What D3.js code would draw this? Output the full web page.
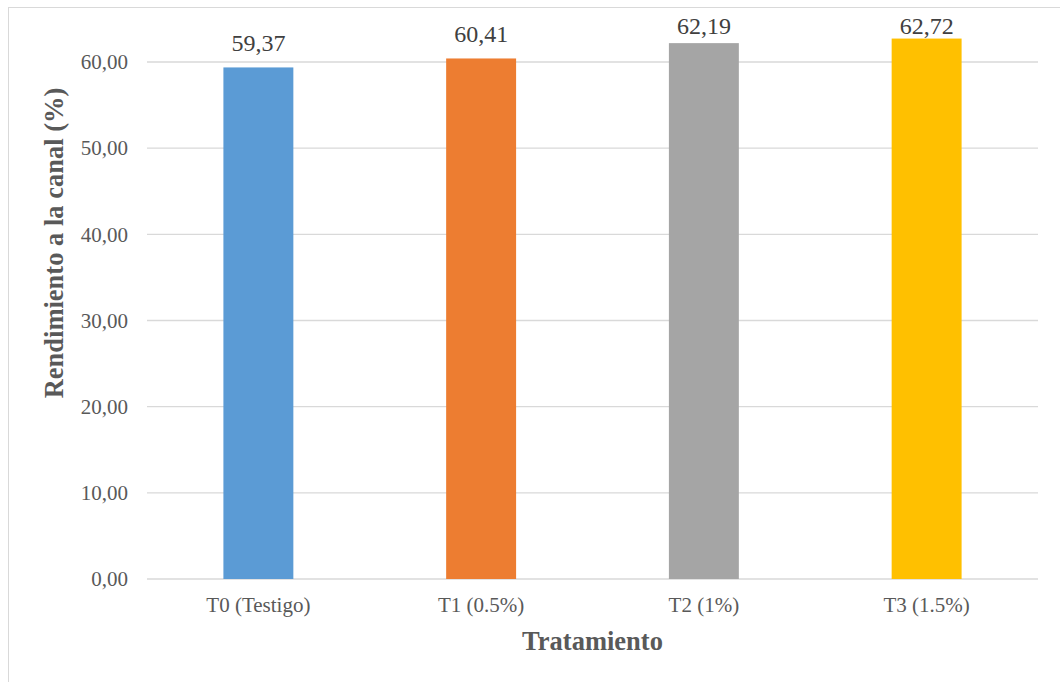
<!DOCTYPE html>
<html>
<head>
<meta charset="utf-8">
<script src="https://cdn.jsdelivr.net/npm/d3@7"></script>
<style>
  html, body { margin: 0; padding: 0; background: #ffffff; }
  svg { display: block; }
</style>
</head>
<body>
<svg id="chart" width="1060" height="682"></svg>
<script>
// Carcass yield by treatment
const categories = ["T0 (Testigo)", "T1 (0.5%)", "T2 (1%)", "T3 (1.5%)"];
const values = [59.37, 60.41, 62.19, 62.72];
const colors = ["#5B9BD5", "#ED7D31", "#A5A5A5", "#FFC000"];
const yTicks = [0, 10, 20, 30, 40, 50, 60];
const yTitle = "Rendimiento a la canal (%)";
const xTitle = "Tratamiento";

const svg = d3.select("#chart");
const font = "'Liberation Serif', 'Times New Roman', serif";
const comma = v => d3.format(".2f")(v).replace(".", ",");

// Chart frame
svg.append("rect")
  .attr("x", 8.5).attr("y", 7.5)
  .attr("width", 1100).attr("height", 700)
  .attr("fill", "none").attr("stroke", "#d9d9d9").attr("stroke-width", 1);

const x = d3.scaleBand()
  .domain(categories)
  .range([147, 1038])
  .paddingInner(0.686)
  .paddingOuter(0.343);

const y = d3.scaleLinear()
  .domain([0, 60])
  .range([579, 62]);

// Horizontal gridlines (the 0 line doubles as the category axis)
svg.append("g")
  .selectAll("line")
  .data(yTicks)
  .join("line")
  .attr("x1", 147).attr("x2", 1038)
  .attr("y1", d => y(d)).attr("y2", d => y(d))
  .attr("stroke", "#d9d9d9").attr("stroke-width", 1.4);

// Value axis labels
const yAxis = svg.append("g")
  .attr("transform", "translate(128,0)")
  .call(d3.axisLeft(y).tickValues(yTicks).tickFormat(comma).tickSize(0).tickPadding(0));
yAxis.select(".domain").remove();
yAxis.selectAll("text")
  .attr("font-family", font).attr("font-size", 21).attr("fill", "#595959");

// Category axis labels
const xAxis = svg.append("g")
  .attr("transform", "translate(0,579)")
  .call(d3.axisBottom(x).tickSize(0).tickPadding(0));
xAxis.select(".domain").remove();
xAxis.selectAll("text")
  .attr("font-family", font).attr("font-size", 21).attr("fill", "#595959")
  .attr("dy", null).attr("y", 33);

// Bars
svg.append("g")
  .selectAll("rect")
  .data(values)
  .join("rect")
  .attr("x", (d, i) => x(categories[i]))
  .attr("width", x.bandwidth())
  .attr("y", d => y(d))
  .attr("height", d => y(0) - y(d))
  .attr("fill", (d, i) => colors[i]);

// Value labels, kept inside the chart frame
svg.append("g")
  .selectAll("text")
  .data(values)
  .join("text")
  .attr("x", (d, i) => x(categories[i]) + x.bandwidth() / 2)
  .attr("y", d => Math.max(y(d) - 16.5, 33.5))
  .attr("text-anchor", "middle")
  .attr("font-family", font).attr("font-size", 24).attr("fill", "#404040")
  .text(d => comma(d));

// Axis titles
svg.append("text")
  .attr("transform", "translate(63,243) rotate(-90)")
  .attr("text-anchor", "middle")
  .attr("font-family", font).attr("font-size", 26.5).attr("font-weight", "bold")
  .attr("fill", "#595959")
  .text(yTitle);

svg.append("text")
  .attr("x", 592.5).attr("y", 650)
  .attr("text-anchor", "middle")
  .attr("font-family", font).attr("font-size", 26.5).attr("font-weight", "bold")
  .attr("fill", "#595959")
  .text(xTitle);
</script>
</body>
</html>
